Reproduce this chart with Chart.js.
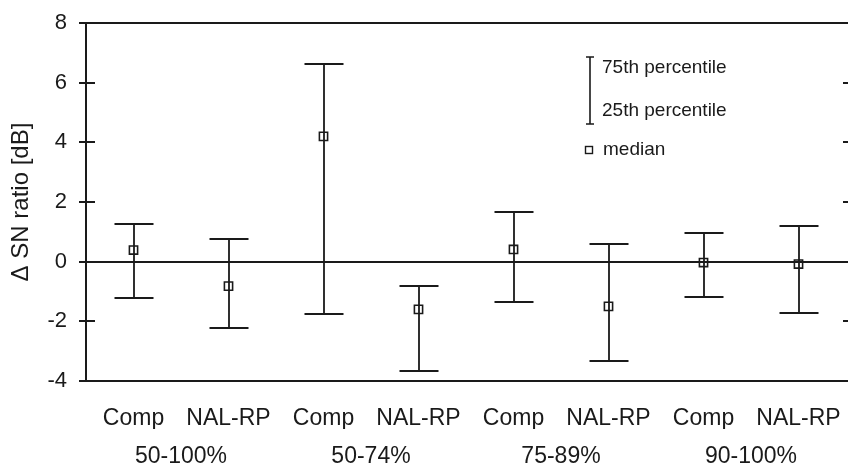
<!DOCTYPE html>
<html>
<head>
<meta charset="utf-8">
<script src="https://cdn.jsdelivr.net/npm/chart.js@4.4.0/dist/chart.umd.min.js"></script>
<style>
  html, body { margin: 0; padding: 0; background: #fff; }
</style>
</head>
<body>
<canvas id="snChart" width="848" height="465"></canvas>
<script>
// one entry per point along the x axis
const conditions = ['Comp', 'NAL-RP', 'Comp', 'NAL-RP', 'Comp', 'NAL-RP', 'Comp', 'NAL-RP'];
// audibility groups, each one covers two conditions
const groups = ['50-100%', '50-74%', '75-89%', '90-100%'];
// delta SN ratio in dB
const medians = [0.39, -0.82, 4.20, -1.60, 0.41, -1.50, -0.03, -0.08];
const p75 = [1.26, 0.75, 6.63, -0.82, 1.65, 0.60, 0.96, 1.18];
const p25 = [-1.22, -2.24, -1.77, -3.65, -1.34, -3.33, -1.20, -1.71];
const yTicks = [-4, -2, 0, 2, 4, 6, 8];

const ink = '#1a1a1a';
const font = '"Liberation Sans", Arial, sans-serif';
const capHalf = 19.5;

// keep label overhang from shrinking the plot area
function noPadding(scale) {
  scale.paddingLeft = 0;
  scale.paddingRight = 0;
  scale.paddingTop = 0;
  scale.paddingBottom = 0;
}

// axis frame, ticks and percentile whiskers
const frame = {
  id: 'frame',
  beforeDatasetsDraw(chart) {
    const { ctx, chartArea, scales: { x, y } } = chart;
    const L = chartArea.left, R = chartArea.right;
    ctx.save();
    ctx.strokeStyle = ink;
    ctx.lineWidth = 2;
    ctx.beginPath();
    yTicks.forEach(v => {
      const py = Math.round(y.getPixelForValue(v));
      if (v === 8 || v === 0 || v === -4) {
        ctx.moveTo(L - 7, py); ctx.lineTo(chart.width, py);
      } else {
        ctx.moveTo(L - 7, py); ctx.lineTo(L + 9, py);
        ctx.moveTo(R - 3, py); ctx.lineTo(chart.width, py);
      }
    });
    ctx.moveTo(L, y.getPixelForValue(8));
    ctx.lineTo(L, y.getPixelForValue(-4));
    ctx.stroke();

    ctx.lineWidth = 1.8;
    ctx.beginPath();
    medians.forEach((m, i) => {
      const px = Math.round(x.getPixelForValue(i));
      const hi = Math.round(y.getPixelForValue(p75[i]));
      const lo = Math.round(y.getPixelForValue(p25[i]));
      ctx.moveTo(px, hi); ctx.lineTo(px, lo);
      ctx.moveTo(px - capHalf, hi); ctx.lineTo(px + capHalf, hi);
      ctx.moveTo(px - capHalf, lo); ctx.lineTo(px + capHalf, lo);
    });
    ctx.stroke();
    ctx.restore();
  },
  afterDraw(chart) {
    // key in the upper right
    const ctx = chart.ctx;
    ctx.save();
    ctx.strokeStyle = ink;
    ctx.lineWidth = 1.6;
    ctx.beginPath();
    ctx.moveTo(590, 57); ctx.lineTo(590, 124);
    ctx.moveTo(586, 57); ctx.lineTo(594, 57);
    ctx.moveTo(586, 124); ctx.lineTo(594, 124);
    ctx.stroke();
    ctx.lineWidth = 1.4;
    ctx.strokeRect(585.5, 146.5, 7, 7);
    ctx.fillStyle = ink;
    ctx.font = '19px ' + font;
    ctx.textAlign = 'left';
    ctx.textBaseline = 'middle';
    ctx.fillText('75th percentile', 602, 68);
    ctx.fillText('25th percentile', 602, 111);
    ctx.fillText('median', 603, 150);
    ctx.restore();
  }
};

new Chart(document.getElementById('snChart'), {
  type: 'line',
  data: {
    labels: conditions,
    datasets: [{
      data: medians,
      xAxisID: 'x',
      yAxisID: 'y',
      showLine: false,
      pointStyle: 'rect',
      pointRadius: 5.8,
      pointHoverRadius: 5.8,
      borderColor: ink,
      borderWidth: 1.6,
      backgroundColor: 'rgba(0,0,0,0)'
    }]
  },
  options: {
    responsive: false,
    animation: false,
    devicePixelRatio: 1,
    layout: { autoPadding: false, padding: { top: 23, right: 2, left: 0, bottom: 0 } },
    plugins: { legend: { display: false }, tooltip: { enabled: false } },
    scales: {
      y: {
        min: -4,
        max: 8,
        afterFit(scale) { scale.width = 86; noPadding(scale); },
        afterBuildTicks(scale) { scale.ticks = yTicks.map(v => ({ value: v })); },
        grid: { display: false, drawTicks: false },
        border: { display: false },
        ticks: { color: ink, padding: 19, font: { family: font, size: 22 } },
        title: {
          display: true,
          text: '\u0394 SN ratio [dB]',
          color: ink,
          padding: { top: 7, bottom: 0 },
          font: { family: font, size: 24 }
        }
      },
      x: {
        type: 'category',
        offset: true,
        afterFit(scale) { scale.height = 48; noPadding(scale); },
        grid: { display: false, drawTicks: false },
        border: { display: false },
        ticks: { color: ink, padding: 26, maxRotation: 0, autoSkip: false, font: { family: font, size: 23, lineHeight: 1 } }
      },
      x2: {
        type: 'category',
        position: 'bottom',
        labels: groups,
        offset: true,
        afterFit(scale) { scale.height = 36; noPadding(scale); },
        grid: { display: false, drawTicks: false },
        border: { display: false },
        ticks: { color: ink, padding: 18, maxRotation: 0, autoSkip: false, font: { family: font, size: 23, lineHeight: 0.8 } }
      }
    }
  },
  plugins: [frame]
});
</script>
</body>
</html>
